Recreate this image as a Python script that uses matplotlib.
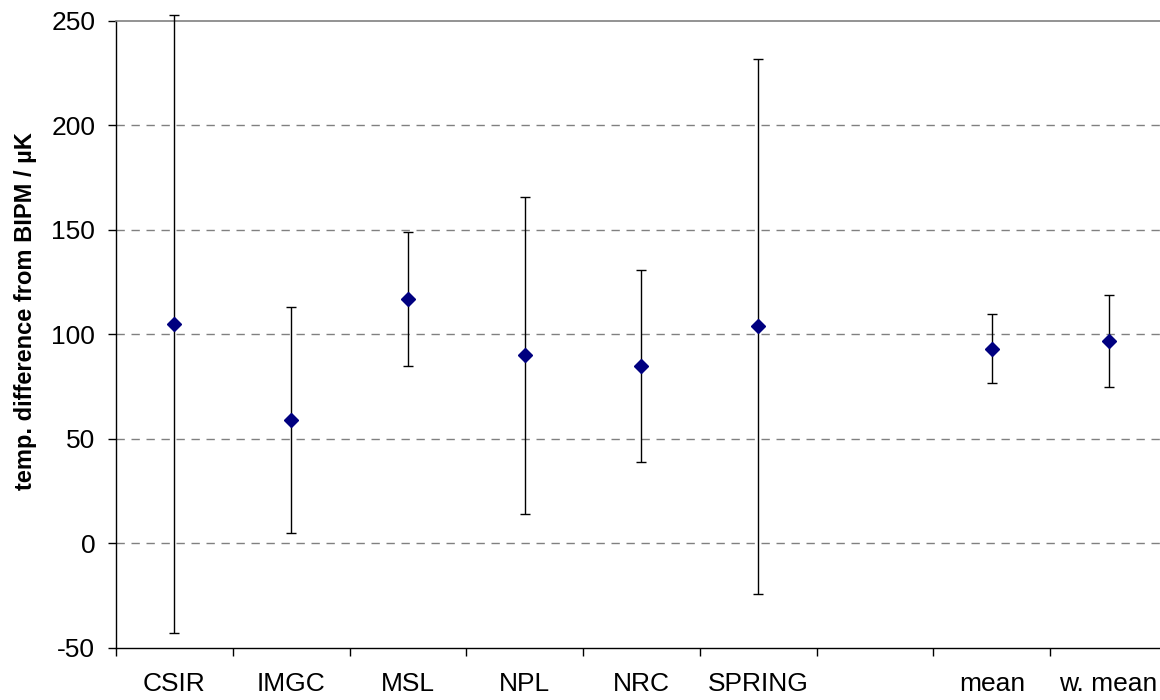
import matplotlib
matplotlib.use('Agg')
import matplotlib.pyplot as plt
import numpy as np

plt.rcParams['font.family'] = ['Liberation Sans', 'DejaVu Sans']
plt.rcParams['lines.scale_dashes'] = False

# 数据
labels = ['CSIR', 'IMGC', 'MSL', 'NPL', 'NRC', 'SPRING', '', 'mean', 'w. mean']
values = [105, 59, 117, 90, 85, 104, np.nan, 93.2, 97]
errors = [148, 54, 32, 76, 46, 128, np.nan, 16.6, 22]
yticks = [-50, 0, 50, 100, 150, 200, 250]

fig = plt.figure(figsize=(11.6, 7), dpi=100)
ax = fig.add_axes([0.1, 0.0743, 0.906, 0.8957])

x = np.arange(len(labels)) + 0.5
eb = ax.errorbar(x, values, yerr=errors, fmt='none', ecolor='black',
                 elinewidth=1.0, capsize=3.6, capthick=1.0, zorder=3)
# 误差线允许超出绘图区（CSIR 上端）
for art in eb.lines[1] + eb.lines[2]:
    art.set_clip_on(False)
ax.plot(x, values, 'D', color='#000080', markersize=7, zorder=4)

ax.set_xlim(0, len(labels))
ax.set_ylim(-50, 250)
ax.set_yticks(yticks)
ax.set_yticklabels([str(v) for v in yticks])

# 类别分隔刻度
ax.set_xticks(np.arange(len(labels) + 1))
ax.set_xticklabels([])
ax.set_xticks(x, minor=True)
ax.set_xticklabels(labels, minor=True)
ax.tick_params(axis='x', which='minor', length=0, pad=17, labelsize=19)
ax.tick_params(axis='x', which='major', length=6, width=1, direction='out')
ax.tick_params(axis='y', length=6, width=1, direction='out', pad=9, labelsize=19)

# 网格线
for v in yticks[1:-1]:
    ax.axhline(v, color='#808080', linewidth=1.0, linestyle=(0, (6, 4.8)), zorder=1)

ax.spines['top'].set_color('#808080')
ax.spines['top'].set_linewidth(1.2)
ax.spines['right'].set_visible(False)
ax.spines['left'].set_linewidth(1.0)
ax.spines['bottom'].set_linewidth(1.0)

ax.set_ylabel('temp. difference from BIPM / µK', fontsize=17, fontweight='bold')
ax.yaxis.set_label_coords(-0.075, 0.537)

fig.savefig('out.png', dpi=100)
